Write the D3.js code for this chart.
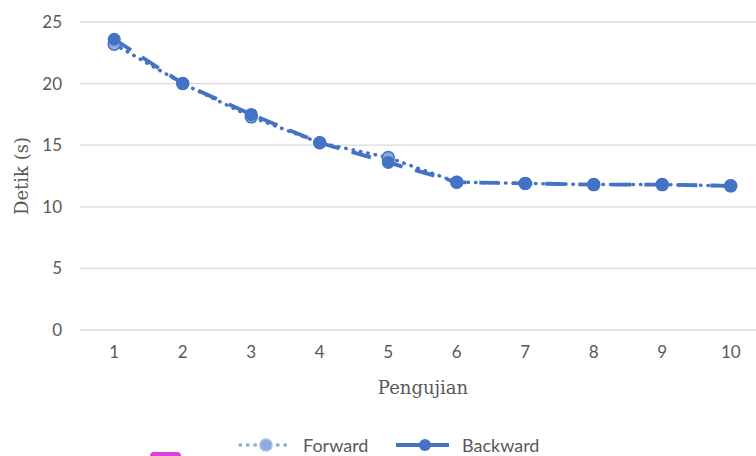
<!DOCTYPE html>
<html>
<head>
<meta charset="utf-8">
<script src="https://cdn.jsdelivr.net/npm/d3@7"></script>
<style>
  body { margin: 0; background: #fff; }
  svg { display: block; }
</style>
</head>
<body>
<div id="chart"></div>
<script>
// Waktu pengujian forward vs backward
const categories = ['1', '2', '3', '4', '5', '6', '7', '8', '9', '10'];
const forward = [23.2, 20.0, 17.3, 15.2, 14.0, 12.0, 11.9, 11.8, 11.8, 11.7];
const backward = [23.6, 20.0, 17.5, 15.2, 13.6, 12.0, 11.9, 11.8, 11.8, 11.7];
const yTicks = [0, 5, 10, 15, 20, 25];

const width = 756, height = 456;
const margin = { top: 22, left: 80, bottom: 126 };
const blue = '#4472c4';
const lightBlue = '#8faadc';
const sans = 'Lato, sans-serif';
const serif = 'DejaVu Serif, serif';

const svg = d3.select('#chart').append('svg')
    .attr('width', width)
    .attr('height', height);

// scales
const x = d3.scaleBand()
    .domain(categories)
    .range([margin.left, 765]);
const y = d3.scaleLinear()
    .domain([0, 25])
    .range([height - margin.bottom, margin.top]);
const cx = d => x(d) + x.bandwidth() / 2;

// gridlines
svg.append('g').selectAll('line')
    .data(yTicks)
    .join('line')
    .attr('x1', margin.left)
    .attr('x2', width)
    .attr('y1', d => y(d))
    .attr('y2', d => y(d))
    .attr('stroke', '#d9d9d9')
    .attr('stroke-width', 1.3);

// y axis labels
const yAxis = svg.append('g')
    .attr('transform', `translate(${margin.left - 18},0)`)
    .call(d3.axisLeft(y).tickValues(yTicks).tickSize(0).tickPadding(0));
yAxis.select('.domain').remove();
yAxis.selectAll('text')
    .attr('font-family', sans)
    .attr('font-size', 17)
    .attr('fill', '#595959');

// x axis labels
const xAxis = svg.append('g')
    .attr('transform', `translate(0,${y(0) + 16})`)
    .call(d3.axisBottom(x).tickSize(0).tickPadding(0));
xAxis.select('.domain').remove();
xAxis.selectAll('text')
    .attr('font-family', sans)
    .attr('font-size', 17)
    .attr('fill', '#595959');

// axis titles
svg.append('text')
    .attr('x', 423)
    .attr('y', 394)
    .attr('text-anchor', 'middle')
    .attr('font-family', serif)
    .attr('font-size', 18)
    .attr('fill', '#595959')
    .text('Pengujian');

svg.append('text')
    .attr('transform', 'translate(28,176) rotate(-90)')
    .attr('text-anchor', 'middle')
    .attr('font-family', serif)
    .attr('font-size', 18)
    .attr('fill', '#595959')
    .text('Detik (s)');

const line = d3.line()
    .x((d, i) => cx(categories[i]))
    .y(d => y(d));

// backward series - dashed line, filled markers
svg.append('path')
    .datum(backward)
    .attr('d', line)
    .attr('fill', 'none')
    .attr('stroke', blue)
    .attr('stroke-width', 3.8)
    .attr('stroke-dasharray', '20,13');

// forward series - dotted line
svg.append('path')
    .datum(forward)
    .attr('d', line)
    .attr('fill', 'none')
    .attr('stroke', blue)
    .attr('stroke-width', 3.5)
    .attr('stroke-linecap', 'round')
    .attr('stroke-dasharray', '0.5,7');

svg.append('g').selectAll('circle')
    .data(forward)
    .join('circle')
    .attr('cx', (d, i) => cx(categories[i]))
    .attr('cy', d => y(d))
    .attr('r', 6)
    .attr('fill', lightBlue)
    .attr('stroke', blue)
    .attr('stroke-width', 1.5);

svg.append('g').selectAll('circle')
    .data(backward)
    .join('circle')
    .attr('cx', (d, i) => cx(categories[i]))
    .attr('cy', d => y(d))
    .attr('r', 6.5)
    .attr('fill', blue);

// legend
const legend = svg.append('g').attr('transform', 'translate(0,445)');
legend.append('line')
    .attr('x1', 240).attr('x2', 292)
    .attr('stroke', lightBlue)
    .attr('stroke-width', 3.5)
    .attr('stroke-linecap', 'round')
    .attr('stroke-dasharray', '0.5,7');
legend.append('circle')
    .attr('cx', 266).attr('r', 6)
    .attr('fill', lightBlue)
    .attr('stroke', '#a9bfe6')
    .attr('stroke-width', 1.5);
legend.append('text')
    .attr('x', 303).attr('y', 6.5)
    .attr('font-family', sans)
    .attr('font-size', 18)
    .attr('fill', '#595959')
    .text('Forward');

legend.append('line')
    .attr('x1', 396).attr('x2', 449)
    .attr('stroke', blue)
    .attr('stroke-width', 3.8);
legend.append('circle')
    .attr('cx', 425).attr('r', 6)
    .attr('fill', blue);
legend.append('text')
    .attr('x', 462).attr('y', 6.5)
    .attr('font-family', sans)
    .attr('font-size', 18)
    .attr('fill', '#595959')
    .text('Backward');

// pink marker clipped at the bottom edge
svg.append('rect')
    .attr('x', 150).attr('y', 452)
    .attr('width', 31).attr('height', 12)
    .attr('rx', 4)
    .attr('fill', '#e03ee0');
</script>
</body>
</html>
